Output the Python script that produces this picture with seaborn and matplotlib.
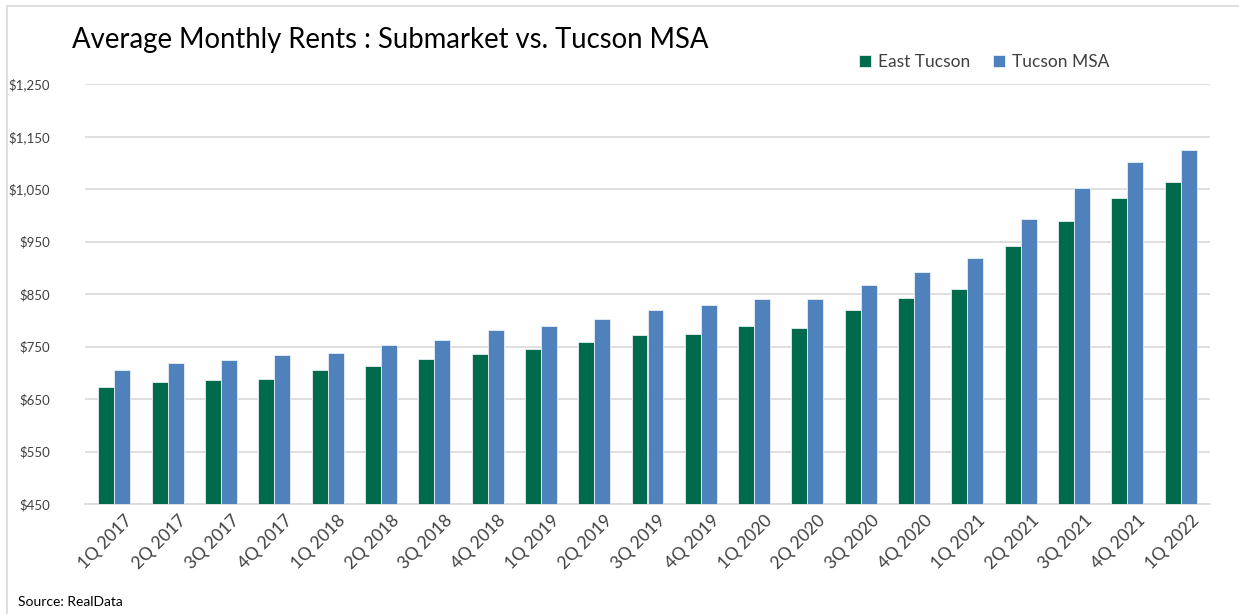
import matplotlib
matplotlib.use('Agg')
import pandas as pd
import seaborn as sns
import matplotlib.pyplot as plt
import matplotlib.ticker as tkr
import matplotlib.transforms as mtrans
from matplotlib.patches import Rectangle

# ------------------ DATA ------------------ #
quarters = ['1Q 2017', '2Q 2017', '3Q 2017', '4Q 2017',
            '1Q 2018', '2Q 2018', '3Q 2018', '4Q 2018',
            '1Q 2019', '2Q 2019', '3Q 2019', '4Q 2019',
            '1Q 2020', '2Q 2020', '3Q 2020', '4Q 2020',
            '1Q 2021', '2Q 2021', '3Q 2021', '4Q 2021',
            '1Q 2022']
east_tucson = [673, 683, 687, 689, 705, 713, 727, 735, 745, 758, 772,
               774, 789, 785, 820, 842, 860, 941, 990, 1032, 1063]
tucson_msa = [705, 719, 725, 733, 738, 752, 763, 782, 790, 803, 819,
              830, 840, 840, 868, 892, 919, 992, 1052, 1101, 1125]
series_names = ['East Tucson', 'Tucson MSA']
y_ticks = [450, 550, 650, 750, 850, 950, 1050, 1150, 1250]

df = pd.DataFrame({'quarter': quarters * 2,
                   'rent': east_tucson + tucson_msa,
                   'series': [series_names[0]] * len(quarters) + [series_names[1]] * len(quarters)})

# ------------------ CHART ------------------ #
sns.set_style('white')
plt.rcParams['font.family'] = ['Lato', 'DejaVu Sans']
text_color = '#404040'

fig = plt.figure(figsize=(12.39, 6.14), dpi=100)
ax = fig.add_axes([85 / 1239, 1 - 504 / 614, (1210 - 85) / 1239, (504 - 84) / 614])

palette = ['#006B4C', '#4F81BD']
sns.barplot(data=df, x='quarter', y='rent', hue='series', order=quarters,
            hue_order=series_names, palette=palette, width=0.6,
            edgecolor='#e8eef5', linewidth=0.6, saturation=1, ax=ax, zorder=3)

ax.set_ylim(450, 1250)
ax.set_yticks(y_ticks)
ax.yaxis.set_major_formatter(tkr.FuncFormatter(lambda y, p: f'${y:,.0f}'))
ax.grid(axis='y', color='#d9d9d9', linewidth=1.2, zorder=0)
ax.set_axisbelow(True)
for name, spine in ax.spines.items():
    spine.set_visible(name == 'bottom')
ax.spines['bottom'].set_color('#d9d9d9')
ax.spines['bottom'].set_linewidth(1.2)
ax.set_xlim(-0.55, len(quarters) - 0.45)
ax.tick_params(axis='both', length=0, colors=text_color)
ax.tick_params(axis='y', pad=25, labelsize=9.5)
ax.set_xticks(range(len(quarters)))
ax.set_xticklabels(quarters, rotation=45, ha='right', va='top', rotation_mode='anchor', fontsize=12.5)
ax.tick_params(axis='x', pad=6)
# shift the rotated labels a little to the right, like Excel does
offset = mtrans.ScaledTranslation(10 / 100, 0, fig.dpi_scale_trans)
for lbl in ax.get_xticklabels():
    lbl.set_transform(lbl.get_transform() + offset)
ax.set_xlabel('')
ax.set_ylabel('')

ax.legend(loc='lower left', bbox_to_anchor=(843 / 1239, 1 - 86 / 614), bbox_transform=fig.transFigure,
          ncol=2, frameon=False, fontsize=12.5, handlelength=0.7, handleheight=0.7,
          handletextpad=0.4, columnspacing=1.3, labelcolor=text_color)

fig.text(72 / 1239, 1 - 40 / 614, 'Average Monthly Rents : Submarket vs. Tucson MSA',
         fontsize=19.8, color='black', va='center', ha='left')
fig.text(18 / 1239, 1 - 602 / 614, 'Source: RealData', fontsize=10, color='black',
         va='center', ha='left')

# chart border
fig.patches.append(Rectangle((7 / 1239, -0.05), 1.1, 1 - 6 / 614 + 0.05, transform=fig.transFigure,
                             fill=False, edgecolor='#d9d9d9', linewidth=1.2))

fig.savefig('out.png', dpi=100)
